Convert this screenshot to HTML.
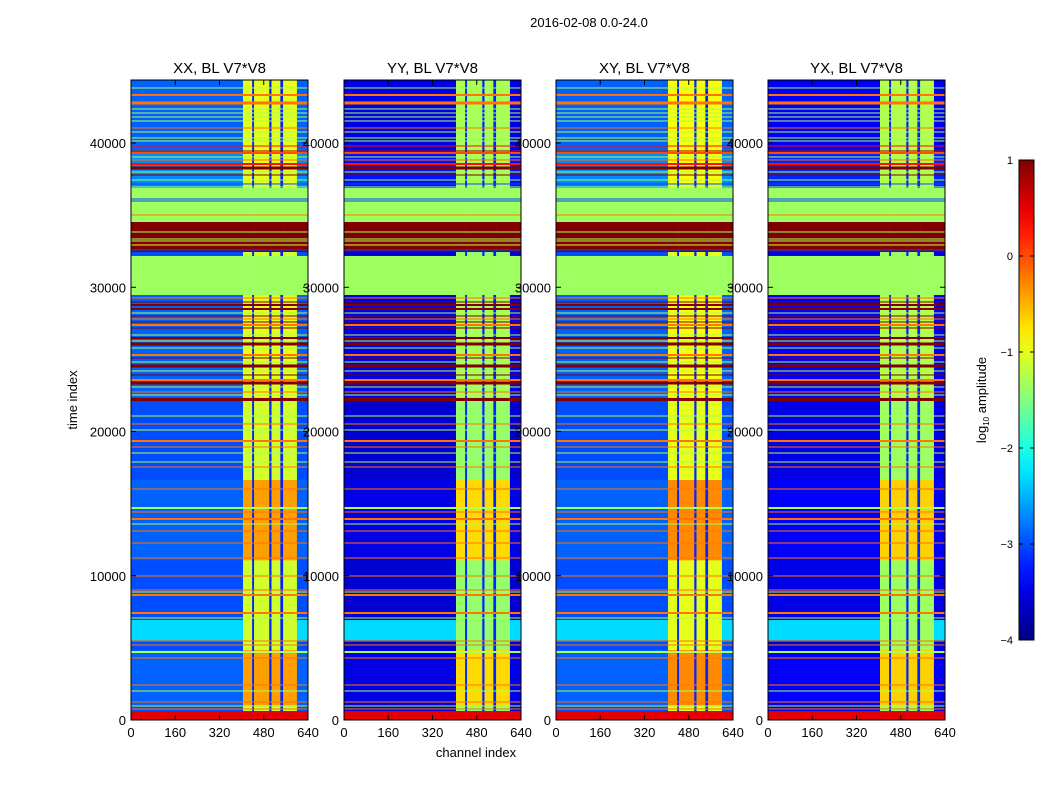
<!DOCTYPE html>
<html><head><meta charset="utf-8"><style>
body{margin:0;background:#fff;}
svg text{font-family:"Liberation Sans","DejaVu Sans",sans-serif;}
</style></head><body>
<svg id="fig" width="1050" height="800" viewBox="0 0 1050 800" xmlns="http://www.w3.org/2000/svg">
<rect width="1050" height="800" fill="#fff"/>
<text x="589" y="27" font-size="13" text-anchor="middle">2016-02-08 0.0-24.0</text>
<text x="77" y="400" font-size="13" text-anchor="middle" transform="rotate(-90 77 400)">time index</text>
<text x="476" y="757" font-size="13" text-anchor="middle">channel index</text>
<g id="panels"></g>
<g id="cbar"></g>
</svg>
<script>
const panelTitles=["XX, BL V7*V8","YY, BL V7*V8","XY, BL V7*V8","YX, BL V7*V8"];
const panelBgShift=[0,-0.6,0,-0.5];
const panelStripeShift=[0,-0.3,0.1,-0.25];
const xTicks=[0,160,320,480,640];
const yTicks=[0,10000,20000,30000,40000];
const cbarTicks=[-4,-3,-2,-1,0,1];
// channel segments: start, end, kind (0 bg, 1 stripe, 2 gap)
const segStart=[0,405,438,445,500,508,540,550,600];
const segEnd=[405,438,445,500,508,540,550,600,640];
const segKind=[0,1,2,1,2,1,2,1,0];
// base time bands
const bandStart=[39520,36745,34525,32445,32170,29465,22185,22115,624,11090,1040,5545,0];
const bandEnd=[44370,39520,36880,34525,32445,32170,29465,22325,22115,16640,4850,6930,624];
const bandBg=[-2.9,-2.7,-1.35,1,-3.0,-1.35,-2.9,1,-3.0,-2.9,-2.9,-2.3,0.5];
const bandStripe=[-1.0,-1.0,-1.35,1,-1.1,-1.35,-1.0,1,-1.1,-0.4,-0.4,-1.1,0.5];
// flagged horizontal lines (uniform across channels)
const lineTime=[43817,43331,42777,42361,42083,41806,41529,41043,40766,40350,40142,39795,39449,39310,39033,38825,38547,38270,37993,37785,37438,37161,36953,36121,35982,35012,33833,33348,33209,32932,32585,29257,28980,28772,28495,28217,28009,27801,27593,27385,27177,26692,26484,26276,26068,25791,25305,25097,24820,24543,24196,23919,23572,23364,23087,22740,22532,21076,20522,20106,19343,18927,18511,17887,17540,16015,14698,14421,13935,13589,13103,12271,11231,9984,9013,8874,8666,7418,7072,5477,5200,4714,4298,2427,2011,1248,971,763];
const lineSpan=[70,140,210,70,70,70,70,70,70,70,70,70,70,140,70,70,140,210,70,70,70,70,70,70,70,70,70,70,70,70,70,70,70,140,140,70,70,70,70,140,70,70,140,70,210,70,140,70,70,210,70,70,140,210,70,70,70,70,70,70,140,70,70,70,70,70,140,70,140,70,70,70,70,70,70,70,140,140,70,70,70,140,70,70,70,70,70,70];
const lineValue=[-1.3,-0.2,-0.2,-1.3,-1.3,-1.3,-1.3,-0.2,-1.3,-1.3,-1.3,0.3,0.8,0,-1.3,-0.2,0.3,1,-1.3,1,-1.3,-3,-1.3,-3,-3,-0.2,-1.3,-1.3,-1.3,-1.1,-3,-0.2,1,1,1,-1.3,1,-0.2,1,-0.2,1,-1.3,1,-1.3,1,-1.3,-0.2,1,-1.3,1,-1.3,1,-0.2,1,-1.3,-0.2,-1.3,-1.3,-0.2,-1.3,-0.2,-0.2,-1.3,-1.3,-0.2,-0.2,-1.3,-0.2,-0.2,-1.3,-0.2,-0.2,-0.2,-0.2,-0.2,-1.3,-0.2,-0.2,-1.3,-0.2,-0.2,-1.3,-0.2,-0.2,-1.3,-0.2,-1.3,-0.2];

const VMIN=-4,VMAX=1,TMAX=44370,CMAX=640;
const panelX=[131,344,556,768],PW=177,PT=80,PB=720;
const NS="http://www.w3.org/2000/svg";
function clip(v){return Math.max(0,Math.min(1,v));}
function jet(v){const x=clip((v-VMIN)/(VMAX-VMIN));
 const r=clip(1.5-Math.abs(4*x-3)),g=clip(1.5-Math.abs(4*x-2)),b=clip(1.5-Math.abs(4*x-1));
 return `rgb(${Math.round(r*255)},${Math.round(g*255)},${Math.round(b*255)})`;}
function mk(tag,attrs,parent){const e=document.createElementNS(NS,tag);for(const k in attrs)e.setAttribute(k,attrs[k]);parent.appendChild(e);return e;}
const yS=t=>PB-(t/TMAX)*(PB-PT);
const root=document.getElementById('panels');
panelTitles.forEach((title,p)=>{
 const x0=panelX[p];const xS=c=>x0+c/CMAX*PW;
 const g=mk('g',{},root);
 
 
 const hm=mk('g',{},g);
 
 
 bandStart.forEach((t0,i)=>{
  const t1=bandEnd[i];const flagged=bandBg[i]===bandStripe[i];
  segStart.forEach((c0,j)=>{
   let v;const k=segKind[j];
   if(flagged)v=bandBg[i];
   else if(k===0)v=bandBg[i]<-2.5?bandBg[i]+panelBgShift[p]:bandBg[i];
   else if(k===1)v=bandStripe[i]+panelStripeShift[p];
   else v=-3.2;
   const r=mk('rect',{x:xS(c0),y:yS(t1),width:xS(segEnd[j])-xS(c0)+0.3,height:yS(t0)-yS(t1)+0.3,fill:jet(v)},hm);
   
   
  });
 });
 lineTime.forEach((t,i)=>{
  const h=yS(t-lineSpan[i]/2)-yS(t+lineSpan[i]/2);
  const r=mk('rect',{x:x0,y:yS(t+lineSpan[i]/2),width:PW,height:h,fill:jet(lineValue[i])},hm);
  
  
 });
 const fr=mk('rect',{x:x0,y:PT,width:PW,height:PB-PT,fill:'none',stroke:'#000','stroke-width':1},g);
 
 
 const tt=mk('text',{x:x0+PW/2,y:73,'font-size':15,'text-anchor':'middle'},g);tt.textContent=title;
 
 
 xTicks.forEach(v=>{const x=xS(v);
  mk('line',{x1:x,x2:x,y1:PB,y2:PB-5,stroke:'#000'},g);mk('line',{x1:x,x2:x,y1:PT,y2:PT+5,stroke:'#000'},g);
  const l=mk('text',{x:x,y:737,'font-size':13,'text-anchor':'middle'},g);l.textContent=v;
  
  });
 yTicks.forEach(v=>{const y=yS(v);
  mk('line',{x1:x0,x2:x0+5,y1:y,y2:y,stroke:'#000'},g);mk('line',{x1:x0+PW,x2:x0+PW-5,y1:y,y2:y,stroke:'#000'},g);
  const l=mk('text',{x:x0-5,y:y+5,'font-size':13,'text-anchor':'end'},g);l.textContent=v;
  
  });
});
// colorbar
const cb=document.getElementById('cbar');const CX=1019,CW=15,CT=160,CB=640;
const cyS=v=>CB-(v-VMIN)/(VMAX-VMIN)*(CB-CT);
const defs=mk('defs',{},cb);const lg=mk('linearGradient',{id:'jetg',x1:0,y1:1,x2:0,y2:0},defs);
for(let i=0;i<=20;i++){mk('stop',{offset:i/20,'stop-color':jet(VMIN+i/20*(VMAX-VMIN))},lg);}
mk('rect',{x:CX,y:CT,width:CW,height:CB-CT,fill:'url(#jetg)',stroke:'#000'},cb);
cbarTicks.forEach(v=>{const y=cyS(v);
 mk('line',{x1:CX,x2:CX+4,y1:y,y2:y,stroke:'#000'},cb);mk('line',{x1:CX+CW,x2:CX+CW-4,y1:y,y2:y,stroke:'#000'},cb);
 const l=mk('text',{x:1013,y:y+4,'font-size':11,'text-anchor':'end'},cb);l.textContent=v<0?'\u2212'+(-v):v;
 
 });
const cl=mk('text',{x:986,y:400,'font-size':13,'text-anchor':'middle',transform:'rotate(-90 986 400)'},cb);
cl.innerHTML='log<tspan font-size="8" dy="3">10</tspan><tspan dy="-3"> amplitude</tspan>';


</script>
</body></html>
